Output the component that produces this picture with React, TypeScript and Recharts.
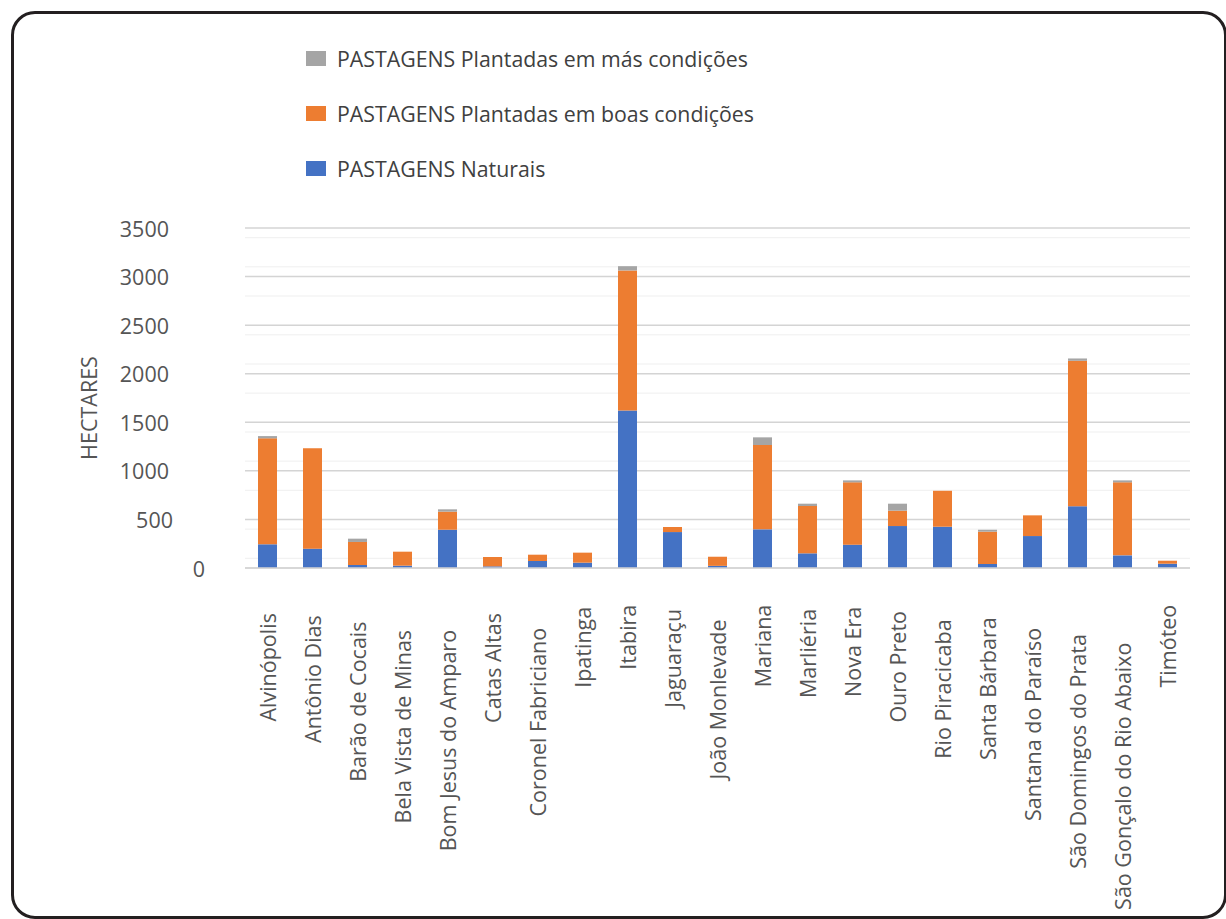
import React from 'react';
import { BarChart, Bar, XAxis, YAxis, CartesianGrid } from 'recharts';

// Municípios e áreas de pastagem (hectares)
const municipios = [
  'Alvinópolis',
  'Antônio Dias',
  'Barão de Cocais',
  'Bela Vista de Minas',
  'Bom Jesus do Amparo',
  'Catas Altas',
  'Coronel Fabriciano',
  'Ipatinga',
  'Itabira',
  'Jaguaraçu',
  'João Monlevade',
  'Mariana',
  'Marliéria',
  'Nova Era',
  'Ouro Preto',
  'Rio Piracicaba',
  'Santa Bárbara',
  'Santana do Paraíso',
  'São Domingos do Prata',
  'São Gonçalo do Rio Abaixo',
  'Timóteo',
];

const naturais = [244, 199, 31, 24, 394, 17, 72, 55, 1622, 370, 22, 398, 151, 240, 432, 425, 41, 329, 635, 130, 44];
const boasCondicoes = [1091, 1033, 237, 144, 186, 96, 65, 103, 1441, 52, 94, 868, 487, 642, 158, 370, 333, 213, 1498, 752, 31];
const masCondicoes = [23, 0, 34, 0, 24, 0, 0, 0, 44, 0, 0, 79, 24, 20, 72, 0, 20, 0, 24, 20, 0];

const yTicks = [0, 500, 1000, 1500, 2000, 2500, 3000, 3500];
const minorLines = [
  100, 200, 300, 400, 600, 700, 800, 900, 1100, 1200, 1300, 1400,
  1600, 1700, 1800, 1900, 2100, 2200, 2300, 2400, 2600, 2700, 2800, 2900,
  3100, 3200, 3300, 3400,
];

const series = [
  { key: 'mas', name: 'PASTAGENS Plantadas em más condições', color: '#A5A5A5' },
  { key: 'boas', name: 'PASTAGENS Plantadas em boas condições', color: '#ED7D31' },
  { key: 'naturais', name: 'PASTAGENS Naturais', color: '#4472C4' },
];

const data = municipios.map((nome, i) => ({
  nome,
  naturais: naturais[i],
  boas: boasCondicoes[i],
  mas: masCondicoes[i],
}));

const FONT = '"Open Sans", sans-serif';
const TEXT = '#555555';

// rótulos girados: os mais longos começam um pouco mais abaixo
const CategoryTick = (props: any) => {
  const { x, payload } = props;
  const label = String(payload.value);
  const y0 = 590 + 2.1 * label.length;
  return (
    <text
      x={x}
      y={y0}
      transform={`rotate(-90, ${x}, ${y0})`}
      textAnchor="end"
      dominantBaseline="central"
      fill={TEXT}
      fontSize={21.5}
      fontFamily={FONT}
    >
      {label}
    </text>
  );
};

const ValueTick = (props: any) => {
  const { y, payload } = props;
  const v = payload.value;
  const x = v === 0 ? 205 : v === 500 ? 173 : 169;
  return (
    <text
      x={x}
      y={y}
      textAnchor="end"
      dominantBaseline="central"
      fill={TEXT}
      fontSize={21.5}
      fontFamily={FONT}
    >
      {v}
    </text>
  );
};

export default function App() {
  return (
    <div
      style={{
        position: 'absolute',
        left: 0,
        top: 0,
        width: 1226,
        height: 919,
        background: '#fff',
        overflow: 'hidden',
        fontFamily: FONT,
      }}
    >
      {/* moldura arredondada */}
      <div
        style={{
          position: 'absolute',
          left: 11,
          top: 11,
          width: 1210,
          height: 902,
          border: '3px solid #231f20',
          borderRadius: 24,
        }}
      />

      {/* legenda */}
      <div style={{ position: 'absolute', left: 306, top: 44 }}>
        {series.map((s) => (
          <div
            key={s.key}
            style={{ display: 'flex', alignItems: 'center', height: 28, marginBottom: 27 }}
          >
            <div style={{ width: 20, height: 15, background: s.color, marginRight: 11 }} />
            <span style={{ fontSize: 21.3, color: '#404040' }}>{s.name}</span>
          </div>
        ))}
      </div>

      <div
        style={{
          position: 'absolute',
          left: 88,
          top: 408,
          transform: 'translate(-50%, -50%) rotate(-90deg)',
          fontSize: 21.5,
          color: TEXT,
          whiteSpace: 'nowrap',
        }}
      >
        HECTARES
      </div>

      <div style={{ position: 'absolute', left: 0, top: 0 }}>
        <BarChart
          width={1226}
          height={919}
          data={data}
          margin={{ top: 228, right: 36, left: 0, bottom: 0 }}
          barSize={19}
        >
          <CartesianGrid
            vertical={false}
            horizontalValues={minorLines}
            stroke="#efefef"
            strokeWidth={1}
          />
          <CartesianGrid vertical={false} stroke="#d4d4d4" strokeWidth={1.5} />
          <XAxis
            dataKey="nome"
            interval={0}
            height={351}
            tickLine={false}
            axisLine={{ stroke: '#d4d4d4', strokeWidth: 1.5 }}
            tick={<CategoryTick />}
          />
          <YAxis
            width={245}
            domain={[0, 3500]}
            ticks={yTicks}
            axisLine={false}
            tickLine={false}
            tick={<ValueTick />}
          />
          <Bar dataKey="naturais" stackId="a" fill="#4472C4" isAnimationActive={false} />
          <Bar dataKey="boas" stackId="a" fill="#ED7D31" isAnimationActive={false} />
          <Bar dataKey="mas" stackId="a" fill="#A5A5A5" isAnimationActive={false} />
        </BarChart>
      </div>
    </div>
  );
}
